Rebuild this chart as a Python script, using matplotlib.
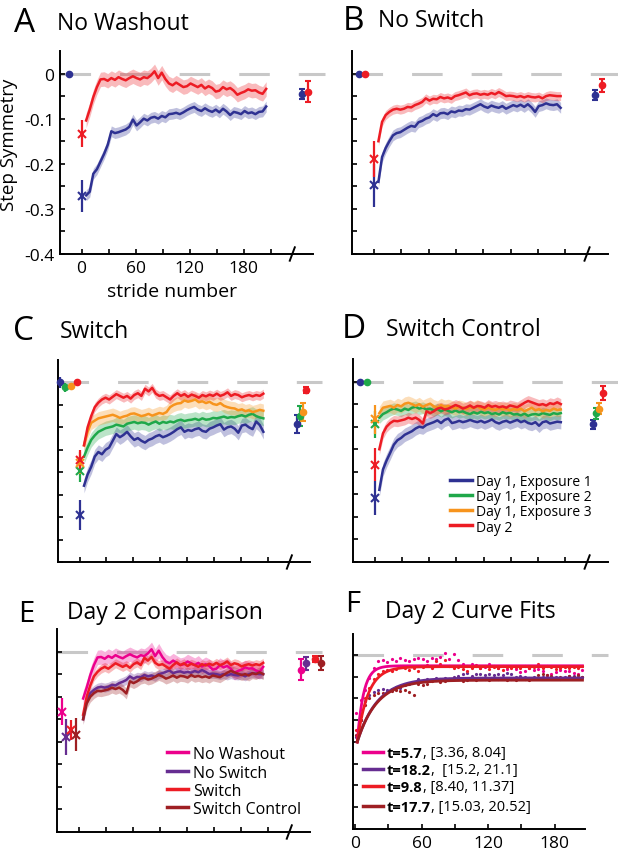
import numpy as np
import matplotlib
matplotlib.use("Agg")
import matplotlib.pyplot as plt
from matplotlib.lines import Line2D

plt.rcParams['font.family'] = ['Open Sans', 'DejaVu Sans']

# ------------------------------------------------------------------ data
stride = np.arange(5, 206, 4)          # stride numbers of the averaged curves

a_blue = [-0.270, -0.262, -0.222, -0.212, -0.195, -0.178, -0.158, -0.128, -0.132, -0.130,
          -0.127, -0.124, -0.118, -0.102, -0.115, -0.108, -0.100, -0.104, -0.098, -0.096,
          -0.100, -0.094, -0.097, -0.090, -0.089, -0.087, -0.090, -0.086, -0.081, -0.077,
          -0.074, -0.080, -0.083, -0.077, -0.082, -0.085, -0.080, -0.086, -0.078, -0.084,
          -0.092, -0.085, -0.087, -0.090, -0.083, -0.088, -0.086, -0.090, -0.085, -0.084,
          -0.073]
a_red = [-0.104, -0.080, -0.052, -0.030, -0.013, -0.012, -0.016, -0.010, -0.014, -0.008,
         -0.012, -0.015, -0.010, -0.006, -0.010, -0.013, -0.008, -0.010, -0.004, 0.005,
         -0.010, 0.002, -0.012, -0.022, -0.026, -0.020, -0.025, -0.030, -0.028, -0.022,
         -0.026, -0.030, -0.025, -0.033, -0.028, -0.032, -0.040, -0.038, -0.030, -0.035,
         -0.032, -0.038, -0.047, -0.043, -0.040, -0.035, -0.038, -0.037, -0.042, -0.045,
         -0.034]
b_blue = [-0.240, -0.185, -0.165, -0.150, -0.137, -0.132, -0.130, -0.125, -0.120, -0.116,
          -0.118, -0.108, -0.105, -0.100, -0.097, -0.090, -0.094, -0.088, -0.087, -0.090,
          -0.084, -0.086, -0.082, -0.083, -0.079, -0.080, -0.076, -0.072, -0.068, -0.073,
          -0.076, -0.071, -0.074, -0.076, -0.072, -0.078, -0.074, -0.070, -0.073, -0.069,
          -0.074, -0.068, -0.075, -0.085, -0.072, -0.070, -0.066, -0.069, -0.070, -0.068,
          -0.076]
b_red = [-0.150, -0.107, -0.092, -0.085, -0.080, -0.078, -0.080, -0.078, -0.074, -0.075,
         -0.070, -0.067, -0.063, -0.055, -0.060, -0.056, -0.057, -0.052, -0.055, -0.053,
         -0.056, -0.050, -0.048, -0.045, -0.042, -0.048, -0.045, -0.044, -0.047, -0.045,
         -0.047, -0.043, -0.046, -0.041, -0.045, -0.050, -0.049, -0.050, -0.052, -0.050,
         -0.053, -0.050, -0.052, -0.053, -0.051, -0.055, -0.050, -0.048, -0.049, -0.050,
         -0.050]
c_blue = [-0.230, -0.205, -0.188, -0.165, -0.155, -0.160, -0.150, -0.145, -0.130, -0.115,
          -0.122, -0.117, -0.110, -0.120, -0.128, -0.124, -0.130, -0.134, -0.128, -0.125,
          -0.120, -0.117, -0.122, -0.119, -0.115, -0.110, -0.104, -0.100, -0.110, -0.106,
          -0.108, -0.104, -0.102, -0.108, -0.110, -0.103, -0.100, -0.096, -0.093, -0.105,
          -0.100, -0.098, -0.103, -0.112, -0.096, -0.094, -0.100, -0.104, -0.087, -0.095,
          -0.110]
c_green = [-0.165, -0.145, -0.128, -0.118, -0.110, -0.106, -0.102, -0.100, -0.098, -0.094,
           -0.096, -0.098, -0.092, -0.090, -0.088, -0.091, -0.089, -0.090, -0.094, -0.090,
           -0.087, -0.092, -0.088, -0.090, -0.087, -0.089, -0.085, -0.083, -0.086, -0.084,
           -0.083, -0.081, -0.084, -0.080, -0.083, -0.082, -0.079, -0.080, -0.078, -0.076,
           -0.079, -0.077, -0.078, -0.075, -0.073, -0.076, -0.072, -0.070, -0.075, -0.078,
           -0.080]
c_orange = [-0.140, -0.110, -0.090, -0.085, -0.080, -0.078, -0.076, -0.074, -0.072, -0.075,
            -0.079, -0.076, -0.074, -0.070, -0.069, -0.072, -0.075, -0.073, -0.070, -0.074,
            -0.071, -0.068, -0.070, -0.066, -0.055, -0.050, -0.047, -0.046, -0.040, -0.043,
            -0.041, -0.038, -0.044, -0.042, -0.046, -0.043, -0.048, -0.050, -0.046, -0.052,
            -0.055, -0.057, -0.058, -0.062, -0.060, -0.064, -0.062, -0.066, -0.064, -0.061,
            -0.063]
c_red = [-0.140, -0.100, -0.075, -0.055, -0.045, -0.038, -0.034, -0.038, -0.032, -0.026,
         -0.030, -0.034, -0.030, -0.036, -0.028, -0.024, -0.030, -0.014, -0.020, -0.012,
         -0.025, -0.030, -0.028, -0.033, -0.038, -0.030, -0.024, -0.030, -0.026, -0.032,
         -0.027, -0.030, -0.034, -0.028, -0.031, -0.027, -0.030, -0.025, -0.030, -0.027,
         -0.022, -0.030, -0.026, -0.028, -0.033, -0.030, -0.028, -0.031, -0.028, -0.030,
         -0.025]
d_blue = [-0.240, -0.195, -0.175, -0.158, -0.140, -0.130, -0.125, -0.118, -0.114, -0.110,
          -0.104, -0.100, -0.102, -0.096, -0.093, -0.090, -0.086, -0.092, -0.085, -0.082,
          -0.092, -0.090, -0.087, -0.090, -0.088, -0.085, -0.088, -0.090, -0.087, -0.091,
          -0.088, -0.084, -0.090, -0.093, -0.089, -0.087, -0.091, -0.088, -0.085, -0.090,
          -0.087, -0.092, -0.094, -0.090, -0.098, -0.090, -0.088, -0.093, -0.091, -0.089,
          -0.090]
d_green = [-0.080, -0.072, -0.068, -0.063, -0.060, -0.062, -0.065, -0.060, -0.063, -0.058,
           -0.056, -0.060, -0.058, -0.062, -0.060, -0.064, -0.061, -0.066, -0.062, -0.065,
           -0.068, -0.064, -0.068, -0.066, -0.070, -0.072, -0.068, -0.071, -0.067, -0.070,
           -0.068, -0.072, -0.070, -0.073, -0.068, -0.071, -0.069, -0.073, -0.072, -0.075,
           -0.071, -0.076, -0.073, -0.072, -0.074, -0.070, -0.072, -0.074, -0.070, -0.072,
           -0.070]
d_orange = [-0.070, -0.058, -0.056, -0.054, -0.058, -0.052, -0.055, -0.049, -0.047, -0.050,
            -0.054, -0.050, -0.056, -0.052, -0.049, -0.055, -0.058, -0.052, -0.056, -0.054,
            -0.057, -0.060, -0.056, -0.058, -0.061, -0.057, -0.059, -0.055, -0.060, -0.062,
            -0.058, -0.061, -0.063, -0.059, -0.062, -0.060, -0.064, -0.061, -0.063, -0.060,
            -0.066, -0.062, -0.058, -0.064, -0.061, -0.066, -0.063, -0.065, -0.060, -0.063,
            -0.062]
d_red = [-0.150, -0.115, -0.100, -0.092, -0.087, -0.088, -0.086, -0.084, -0.080, -0.083,
         -0.080, -0.085, -0.093, -0.066, -0.070, -0.066, -0.060, -0.058, -0.062, -0.060,
         -0.056, -0.052, -0.055, -0.060, -0.057, -0.053, -0.058, -0.054, -0.055, -0.058,
         -0.052, -0.056, -0.054, -0.057, -0.055, -0.058, -0.053, -0.055, -0.057, -0.052,
         -0.047, -0.043, -0.046, -0.049, -0.052, -0.050, -0.053, -0.048, -0.050, -0.046,
         -0.050]

# SEM band half-widths
sem_a = [0.012, 0.016]
sem_b = [0.012, 0.010]
sem_c = [0.016, 0.016, 0.015, 0.010]
sem_d = [0.015, 0.013, 0.015, 0.012]

# baseline (pre-adaptation) values
base_a = [0.0];                 base_a_err = [0.004]
base_b = [0.0, 0.0];            base_b_err = [0.005, 0.004]
base_c = [0.0, -0.011, -0.008, 0.0]; base_c_err = [0.012, 0.010, 0.006, 0.008]
base_d = [0.0, 0.0];            base_d_err = [0.004, 0.004]

# first-stride values
first_a = [-0.271, -0.133];     first_a_err = [0.035, 0.030]
first_b = [-0.248, -0.189];     first_b_err = [0.048, 0.040]
first_c = [-0.295, -0.197, -0.180, -0.173]; first_c_err = [0.033, 0.025, 0.025, 0.022]
first_d = [-0.258, -0.095, -0.084, -0.184]; first_d_err = [0.037, 0.030, 0.033, 0.037]

# end-of-session (post-break) values
end_a = [-0.045, -0.040];       end_a_err = [0.011, 0.024]
end_b = [-0.048, -0.026];       end_b_err = [0.011, 0.015]
end_c = [-0.093, -0.075, -0.065, -0.017]; end_c_err = [0.020, 0.022, 0.020, 0.007]
end_d = [-0.095, -0.070, -0.060, -0.025]; end_d_err = [0.010, 0.012, 0.012, 0.015]

# Day-2 exponential fits: time constant, asymptote, value at stride 2
fit_tau = [5.7, 18.2, 9.8, 17.7]
fit_ci = ['[3.36, 8.04]', ' [15.2, 21.1]', '[8.40, 11.37]', '[15.03, 20.52]']
fit_asym = [-0.025, -0.053, -0.027, -0.058]
fit_start = [-0.20, -0.20, -0.20, -0.20]

legend_cd = ['Day 1, Exposure 1', 'Day 1, Exposure 2', 'Day 1, Exposure 3', 'Day 2']
legend_e = ['No Washout', 'No Switch', 'Switch', 'Switch Control']

# ------------------------------------------------------------------ style
BLUE = '#2e3192'
GREEN = '#1fa84a'
ORANGE = '#f7941d'
RED = '#ed1c24'
MAGENTA = '#ec008c'
PURPLE = '#662d91'
DARKRED = '#9e1f23'
GRAY = '#c8c8c8'

W, H = 618, 853
fig = plt.figure(figsize=(W / 100, H / 100), dpi=100)


def fx(px):
    return px / W


def fy(py):
    return 1 - py / H


def axes_px(l, r, t, b):
    return fig.add_axes([l / W, 1 - b / H, (r - l) / W, (b - t) / H])


XLIM = (-24, 257)
YLIM = (-0.4, 0.05)
BREAK_X = 234


def setup(ax, xlim=XLIM, ylim=YLIM, xlabels=False, ylabels=False,
          xminor=(30, 90, 150, 210), breakmark=True, dash_end=None):
    ax.set_xlim(xlim)
    ax.set_ylim(ylim)
    ax.patch.set_visible(False)
    for s in ['top', 'right']:
        ax.spines[s].set_visible(False)
    for s in ['left', 'bottom']:
        ax.spines[s].set_linewidth(1.4)
    ax.set_xticks([0, 60, 120, 180])
    ax.set_xticks(list(xminor), minor=True)
    ax.set_yticks([0, -0.1, -0.2, -0.3, -0.4])
    ax.set_yticks([-0.05, -0.15, -0.25, -0.35], minor=True)
    ax.tick_params(which='both', direction='in', length=3.5, width=1.2,
                   labelsize=12.5, pad=4)
    if xlabels:
        ax.set_xticklabels(['0', '60', '120', '180'])
    else:
        ax.set_xticklabels([])
    if ylabels:
        ax.set_yticklabels(['0', '-0.1', '-0.2', '-0.3', '-0.4'])
    else:
        ax.set_yticklabels([])
    end = dash_end if dash_end is not None else xlim[1] + 13
    ax.plot([xlim[0], end], [0, 0], color=GRAY, lw=2.2, dashes=(10, 9.5),
            zorder=0.5, clip_on=False)
    if breakmark:
        ax.plot([BREAK_X - 2.8, BREAK_X + 2.8], [-0.033, 0.033], color='black',
                lw=1.4, transform=ax.get_xaxis_transform(), clip_on=False)


def curve(ax, y, sem, color):
    y = np.asarray(y)
    ax.fill_between(stride, y - sem, y + sem, color=color, alpha=0.3, lw=0, zorder=1)
    ax.plot(stride, y, color=color, lw=1.8, zorder=2)


def noclip(container):
    for a in container.get_children():
        a.set_clip_on(False)


def first_marker(ax, x, y, err, color):
    c = ax.errorbar([x], [y], yerr=[err], fmt='x', color=color, ms=5.5, mew=1.5,
                    elinewidth=1.6, capsize=0, zorder=3)
    noclip(c)


def dot(ax, x, y, err, color, capsize=0.0):
    c = ax.errorbar([x], [y], yerr=[err], fmt='o', color=color, ms=4.5,
                    elinewidth=1.6, capsize=capsize, capthick=1.5, zorder=3)
    noclip(c)


def panel(ax, curves, colors, sems, base, base_err, base_x, first, first_err,
          first_x, end, end_err, end_x):
    for y, c, s in zip(curves, colors, sems):
        curve(ax, y, s, c)
    for v, e, x, c in zip(base, base_err, base_x, colors):
        dot(ax, x, v, e, c)
    for v, e, x, c in zip(first, first_err, first_x, colors):
        first_marker(ax, x, v, e, c)
    for v, e, x, c in zip(end, end_err, end_x, colors):
        dot(ax, x, v, e, c, capsize=2.5)


def title(letter, lx, ly, text, tx, ty, lsize=24, tsize=16.5):
    fig.text(fx(lx), fy(ly), letter, fontsize=lsize, va='baseline', ha='left')
    fig.text(fx(tx), fy(ty), text, fontsize=tsize, va='baseline', ha='left')


def legend_rows(x0, x1, xt, ys, colors, labels, fs):
    for y, c, lab in zip(ys, colors, labels):
        fig.add_artist(Line2D([fx(x0), fx(x1)], [fy(y), fy(y)], color=c, lw=2.5))
        fig.text(fx(xt), fy(y), lab, fontsize=fs, va='center_baseline', ha='left')


# ------------------------------------------------------------------ A
axA = axes_px(60, 313, 52, 255)
setup(axA, xlabels=True, ylabels=True)
panel(axA, [a_blue, a_red], [BLUE, RED], sem_a,
      base_a, base_a_err, [-14], first_a, first_a_err, [0, 0],
      end_a, end_a_err, [245, 252])
title('A', 14, 32, 'No Washout', 57, 30)
fig.text(fx(9), fy(145), 'Step Symmetry', rotation=90, fontsize=13.5,
         ha='center', va='center')
fig.text(fx(172), fy(297), 'stride number', fontsize=14, ha='center', va='baseline')

# ------------------------------------------------------------------ B
axB = axes_px(352, 608, 52, 255)
setup(axB)
panel(axB, [b_blue, b_red], [BLUE, RED], sem_b,
      base_b, base_b_err, [-16, -10], first_b, first_b_err, [0, 0],
      end_b, end_b_err, [243, 250])
title('B', 343, 30, 'No Switch', 378, 27)

# ------------------------------------------------------------------ C
axC = axes_px(58, 310, 361, 563)
setup(axC)
panel(axC, [c_blue, c_green, c_orange, c_red], [BLUE, GREEN, ORANGE, RED], sem_c,
      base_c, base_c_err, [-22, -16, -9, -3], first_c, first_c_err, [0, 0, 0, 0],
      end_c, end_c_err, [243, 246, 249, 252])
title('C', 13, 340, 'Switch', 60, 338)

# ------------------------------------------------------------------ D
axD = axes_px(353, 608, 360, 563)
setup(axD)
panel(axD, [d_blue, d_green, d_orange, d_red], [BLUE, GREEN, ORANGE, RED], sem_d,
      base_d, base_d_err, [-16, -9], first_d, first_d_err, [0, 0, 0, 0],
      end_d, end_d_err, [241, 244, 247, 251])
title('D', 342, 338, 'Switch Control', 386, 336)
legend_rows(450, 472, 476, [481, 496, 511, 526], [BLUE, GREEN, ORANGE, RED],
            legend_cd, 10)

# ------------------------------------------------------------------ E
day2 = [a_red, b_red, c_red, d_red]
day2_sem = [sem_a[1], sem_b[1], sem_c[3], sem_d[3]]
day2_first = [first_a[1], first_b[1], first_c[3], first_d[3]]
day2_first_err = [first_a_err[1], first_b_err[1], first_c_err[3], first_d_err[3]]
day2_end = [end_a[1], end_b[1], end_c[3], end_d[3]]
day2_end_err = [end_a_err[1], end_b_err[1], end_c_err[3], end_d_err[3]]
day2_colors = [MAGENTA, PURPLE, RED, DARKRED]

axE = axes_px(57, 310, 630, 833)
setup(axE)
panel(axE, day2, day2_colors, day2_sem, [], [], [],
      day2_first, day2_first_err, [-19, -14, -8.5, -2.6],
      day2_end, day2_end_err, [247, 253, 262, 269])
title('E', 18, 622, 'Day 2 Comparison', 67, 619, lsize=21)
legend_rows(167, 188, 193, [753, 772, 790, 808], day2_colors, legend_e, 11.5)

# ------------------------------------------------------------------ F
axF = axes_px(353, 608, 635, 830)
setup(axF, xlim=(-1.8, 228), ylim=(-0.397, 0.048), xlabels=True,
      xminor=(30, 90, 150), breakmark=False, dash_end=228)
axF.spines['bottom'].set_bounds(-1.8, 207)
for y, v1, c in zip(day2, day2_first, day2_colors):
    axF.plot(np.concatenate([[1], stride]), np.concatenate([[v1], y]), 'o',
             color=c, ms=2.3, mew=0, zorder=2)
xfit = np.linspace(2, 205, 300)
for tau, a, s, c in zip(fit_tau, fit_asym, fit_start, day2_colors):
    axF.plot(xfit, a + (s - a) * np.exp(-(xfit - 2) / tau), color=c, lw=2.0, zorder=3)
title('F', 345, 612, 'Day 2 Curve Fits', 385, 618, lsize=21)
for y, tau, ci, c in zip([753, 770, 787, 807], fit_tau, fit_ci, day2_colors):
    fig.add_artist(Line2D([fx(363), fx(383)], [fy(y), fy(y)], color=c, lw=2.5))
    t1 = fig.text(fx(387), fy(y), f't={tau}', fontsize=10.5, fontweight='bold',
                  va='center_baseline', ha='left')
    axF.annotate(', ' + ci, xy=(1, 0), xycoords=t1, fontsize=10.5,
                 va='bottom', ha='left', annotation_clip=False)

fig.savefig('out.png', dpi=100)
